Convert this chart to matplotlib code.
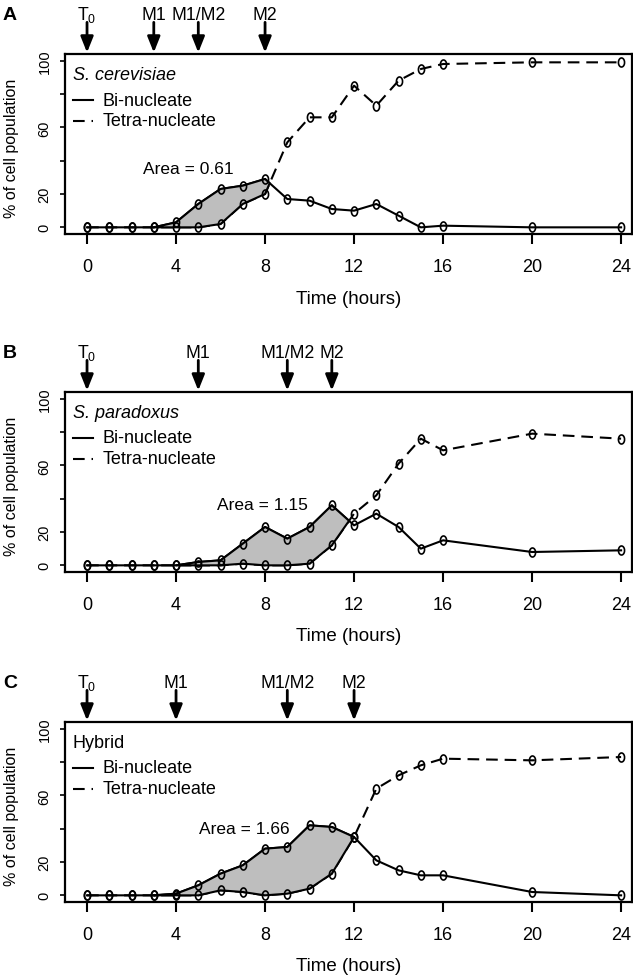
import matplotlib
matplotlib.use("Agg")
import matplotlib.pyplot as plt
import numpy as np

plt.rcParams["font.family"] = ["Liberation Sans", "DejaVu Sans"]
plt.rcParams["mathtext.fontset"] = "custom"
plt.rcParams["mathtext.rm"] = "Liberation Sans"

# ── data ─────────────────────────────────────────────────────────────
hours = [0, 1, 2, 3, 4, 5, 6, 7, 8, 9, 10, 11, 12, 13, 14, 15, 16, 20, 24]

cer_bi    = [0, 0, 0, 0, 3, 14, 23, 25, 29, 17, 16, 11, 10, 14, 7, 0, 1, 0, 0]
cer_tetra = [0, 0, 0, 0, 0, 0, 2, 14, 20, 51, 66, 66, 85, 73, 88, 95, 98, 99, 99]

par_bi    = [0, 0, 0, 0, 0, 2, 3, 13, 23, 16, 23, 36, 24, 31, 23, 10, 15, 8, 9]
par_tetra = [0, 0, 0, 0, 0, 0, 0, 1, 0, 0, 1, 12, 31, 42, 61, 76, 69, 79, 76]

hyb_bi    = [0, 0, 0, 0, 1, 6, 13, 18, 28, 29, 42, 41, 35, 21, 15, 12, 12, 2, 0]
hyb_tetra = [0, 0, 0, 0, 0, 0, 3, 2, 0, 1, 4, 13, 35, 64, 72, 78, 82, 81, 83]

event_names = ["T$_\\mathregular{0}$", "M1", "M1/M2", "M2"]
cer_events = [0, 3, 5, 8]
par_events = [0, 5, 9, 11]
hyb_events = [0, 4, 9, 12]

areas = ["Area = 0.61", "Area = 1.15", "Area = 1.66"]
area_pos = [(4.54, 35.4), (7.89, 36.2), (7.06, 39.8)]

# ── figure ───────────────────────────────────────────────────────────
FW, FH = 633, 978
fig = plt.figure(figsize=(FW / 100, FH / 100), dpi=100)
fig.patch.set_facecolor("white")

L, R = 65, 632
tops = [55, 393, 723]
AH = 180

th = np.linspace(0, 2 * np.pi, 40)
ellipse = list(zip(0.68 * np.cos(th), np.sin(th)))

LW = 1.5
FS = 13
DASH = (5.6, 3.3)


def panel(top, letter, species, italic, t, bi, tetra, events, area_txt, apos):
    ax = fig.add_axes([L / FW, 1 - (top + AH) / FH, (R - L) / FW, AH / FH])
    t = np.asarray(t, float)
    bi = np.asarray(bi, float)
    tetra = np.asarray(tetra, float)

    ax.plot(t, bi, color="black", lw=LW, zorder=2)
    ax.plot(t, tetra, color="black", lw=LW, dashes=DASH, zorder=2)

    # shaded area between the curves until they cross
    d = bi - tetra
    i0 = np.nonzero(d > 0)[0][0] - 1
    k = i0 + 1
    while d[k] > 0:
        k += 1
    if d[k] == 0:
        tc, yc = t[k], bi[k]
    else:
        f = d[k - 1] / (d[k - 1] - d[k])
        tc = t[k - 1] + f * (t[k] - t[k - 1])
        yc = bi[k - 1] + f * (bi[k] - bi[k - 1])
    px = list(t[i0:k]) + [tc] + list(t[i0:k][::-1])
    py = list(bi[i0:k]) + [yc] + list(tetra[i0:k][::-1])
    ax.fill(px, py, facecolor="#BEBEBE", edgecolor="black", lw=LW,
            joinstyle="round", zorder=3)

    for y in (bi, tetra):
        ax.plot(t, y, ls="none", marker=ellipse, ms=6.5, mfc="none",
                mec="black", mew=1.2, zorder=4)

    ax.set_xlim(-0.99, 24.49)
    ax.set_ylim(-4, 104)
    ax.set_xticks([0, 4, 8, 12, 16, 20, 24])
    ax.set_yticks([0, 20, 40, 60, 80, 100])
    ax.set_yticklabels(["0", "20", "", "60", "", "100"], rotation=90,
                       va="center")
    ax.tick_params(axis="x", length=7.5, width=1.5, pad=10, labelsize=FS)
    ax.tick_params(axis="y", length=3.3, width=1.2, pad=6.5, labelsize=10.5)
    for s in ax.spines.values():
        s.set_linewidth(1.6)

    # legend
    def fy(off):
        return 1 - off / AH
    x0 = (73 - L) / (R - L)
    x1 = (93 - L) / (R - L)
    xt = (102.5 - L) / (R - L)
    ax.text(x0, fy(21), species, transform=ax.transAxes, fontsize=FS,
            style="italic" if italic else "normal", va="center", ha="left")
    ax.plot([x0, x1], [fy(46)] * 2, color="black", lw=LW,
            transform=ax.transAxes)
    ax.plot([x0, x1], [fy(66.5)] * 2, color="black", lw=LW, dashes=DASH,
            transform=ax.transAxes)
    ax.text(xt, fy(46), "Bi-nucleate", transform=ax.transAxes, fontsize=FS,
            va="center", ha="left")
    ax.text(xt, fy(66.5), "Tetra-nucleate", transform=ax.transAxes,
            fontsize=FS, va="center", ha="left")

    ax.text(apos[0], apos[1], area_txt, fontsize=12.5, ha="center",
            va="center", zorder=5)

    # event arrows above the panel
    for name, ev in zip(event_names, events):
        ax.annotate("", xy=(ev, 1.008), xycoords=("data", "axes fraction"),
                    xytext=(ev, 1.176), textcoords=("data", "axes fraction"),
                    arrowprops=dict(arrowstyle="-|>,head_length=0.95,head_width=0.38",
                                    mutation_scale=10, color="black", lw=2,
                                    shrinkA=0, shrinkB=0),
                    annotation_clip=False)
        ax.text(ev, 1.197, name, transform=ax.get_xaxis_transform(),
                ha="center", va="baseline", fontsize=12.7)

    ax.text((3 - L) / (R - L), 1.195, letter, transform=ax.transAxes,
            fontsize=14, fontweight="bold", ha="left", va="baseline")
    ax.text(0.5, -64 / AH, "Time (hours)", transform=ax.transAxes,
            fontsize=13.5, ha="center", va="center")
    ax.text((12 - L) / (R - L), 0.48, "% of cell population",
            transform=ax.transAxes, fontsize=11.5, rotation=90,
            ha="center", va="center")
    return ax


panel(tops[0], "A", "S. cerevisiae", True, hours, cer_bi, cer_tetra,
      cer_events, areas[0], area_pos[0])
panel(tops[1], "B", "S. paradoxus", True, hours, par_bi, par_tetra,
      par_events, areas[1], area_pos[1])
panel(tops[2], "C", "Hybrid", False, hours, hyb_bi, hyb_tetra,
      hyb_events, areas[2], area_pos[2])

fig.savefig("out.png", dpi=100, facecolor="white")
plt.close()
